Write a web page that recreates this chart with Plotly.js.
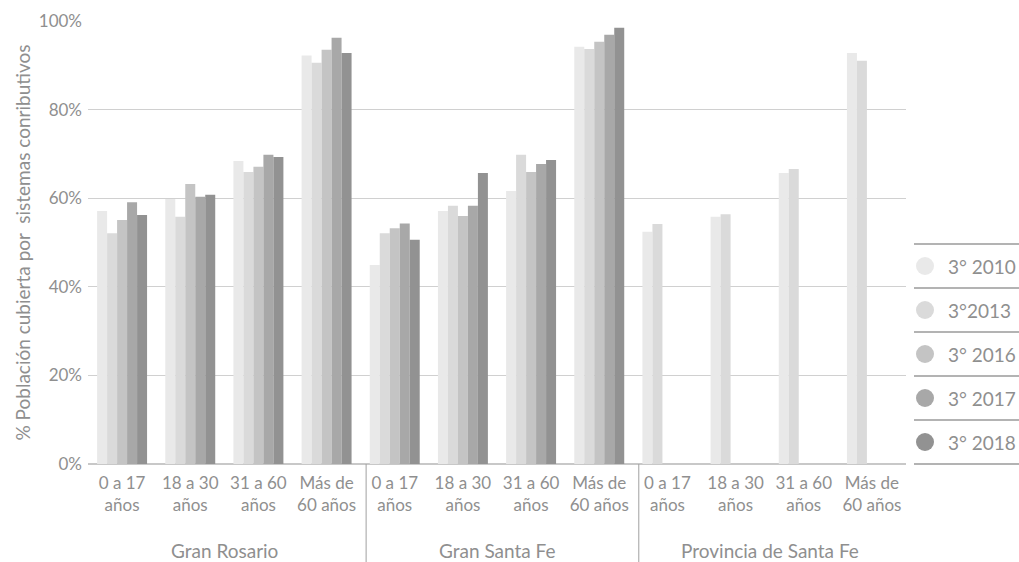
<!DOCTYPE html>
<html>
<head>
<meta charset="utf-8">
<script src="https://cdn.plot.ly/plotly-3.0.1.min.js"></script>
<style>html,body{margin:0;padding:0;background:#fff;}#chart{width:1019px;height:562px;}</style>
</head>
<body>
<div id="chart"></div>
<script>
// ---- data ----
var regions = ["Gran Rosario", "Gran Santa Fe", "Provincia de Santa Fe"];
var ageGroups = ["0 a 17<br>años", "18 a 30<br>años", "31 a 60<br>años", "Más de<br>60 años"];
var seriesNames = ["3° 2010", "3°2013", "3° 2016", "3° 2017", "3° 2018"];
var seriesColors = ["#e9e9e9", "#dadada", "#c4c4c4", "#a8a8a8", "#929292"];
// values in %, order: GR(4 ages), GSF(4 ages), Provincia(4 ages)
var s2010 = [57.1, 59.8, 68.4, 92.2, 44.9, 57.1, 61.6, 94.2, 52.4, 55.8, 65.7, 92.8];
var s2013 = [52.1, 55.8, 65.9, 90.6, 52.1, 58.3, 69.8, 93.7, 54.2, 56.4, 66.6, 91.0];
var s2016 = [55.1, 63.2, 67.1, 93.5, 53.2, 56.0, 65.9, 95.3, null, null, null, null];
var s2017 = [59.1, 60.3, 69.8, 96.2, 54.3, 58.3, 67.7, 96.9, null, null, null, null];
var s2018 = [56.2, 60.8, 69.3, 92.8, 50.6, 65.7, 68.6, 98.5, null, null, null, null];
var yTickVals = [0, 20, 40, 60, 80, 100];
var yTickText = ["0%", "20%", "40%", "60%", "80%", "100%"];
var yTitle = "% Población cubierta por  sistemas conributivos";

var allSeries = [s2010, s2013, s2016, s2017, s2018];

// ---- build ----
var xIdx = [], xText = [];
regions.forEach(function (r, ri) {
  ageGroups.forEach(function (a, ai) {
    xIdx.push(ri * ageGroups.length + ai);
    xText.push(a);
  });
});

var traces = allSeries.map(function (vals, i) {
  return {
    type: "bar",
    x: xIdx,
    y: vals,
    name: seriesNames[i],
    marker: { color: seriesColors[i], line: { width: 0 } },
    showlegend: false,
    hoverinfo: "y+name"
  };
});

var W = 1019, H = 562;
var mL = 88, mR = 113, mT = 21, mB = 98;
var pw = W - mL - mR, ph = H - mT - mB;
function px(x) { return (x - mL) / pw; }
function py(y) { return (H - mB - y) / ph; }

var textColor = "#8f8f8f";
var fontFam = "Lato, 'Open Sans', sans-serif";

var shapes = [];
var annotations = [];

// dividers between regions
for (var g = 1; g < regions.length; g++) {
  var xb = g * ageGroups.length - 0.5 + 0.08;
  shapes.push({
    type: "line", xref: "x", yref: "paper",
    x0: xb, x1: xb, y0: 0, y1: py(H),
    line: { color: "#a0a0a0", width: 1 }
  });
}
// region labels
regions.forEach(function (r, ri) {
  annotations.push({
    text: r, xref: "x", yref: "paper",
    x: ri * ageGroups.length + (ageGroups.length - 1) / 2,
    y: py(550), xanchor: "center", yanchor: "middle",
    showarrow: false, font: { family: fontFam, size: 19, color: textColor }
  });
});

// custom legend
var legTop = 244, legStep = 44;
for (var k = 0; k <= seriesNames.length; k++) {
  var ly = legTop + k * legStep;
  shapes.push({
    type: "line", xref: "paper", yref: "paper",
    x0: px(914), x1: px(1019), y0: py(ly), y1: py(ly),
    line: { color: "#9a9a9a", width: 1.3 }
  });
}
seriesNames.forEach(function (n, i) {
  var cy = legTop + i * legStep + legStep / 2;
  shapes.push({
    type: "circle", xref: "paper", yref: "paper",
    xsizemode: "pixel", ysizemode: "pixel",
    xanchor: px(925), yanchor: py(cy),
    x0: -9, x1: 9, y0: -9, y1: 9,
    fillcolor: seriesColors[i], line: { width: 0 }
  });
  annotations.push({
    text: n, xref: "paper", yref: "paper",
    x: px(946), y: py(cy), xanchor: "left", yanchor: "middle",
    showarrow: false, font: { family: fontFam, size: 19, color: textColor }
  });
});

var layout = {
  width: W, height: H,
  margin: { l: mL, r: mR, t: mT, b: mB, pad: 0 },
  paper_bgcolor: "#fff", plot_bgcolor: "#fff",
  barmode: "group", bargap: 0.267, bargroupgap: 0,
  font: { family: fontFam, color: textColor, size: 17 },
  xaxis: {
    type: "linear",
    range: [-0.5, xIdx.length - 0.5],
    tickvals: xIdx, ticktext: xText,
    showgrid: false, zeroline: false, showline: false,
    ticks: "", ticklabelstandoff: 7,
    tickfont: { family: fontFam, size: 17, color: textColor },
    fixedrange: true
  },
  yaxis: {
    range: [0, 100],
    tickvals: yTickVals, ticktext: yTickText,
    showgrid: true, gridcolor: "#d0d0d0", gridwidth: 1,
    zeroline: true, zerolinecolor: "#c8c8c8", zerolinewidth: 2,
    showline: false, ticks: "", ticklabelstandoff: 5,
    tickfont: { family: fontFam, size: 17, color: textColor },
    title: { text: yTitle, font: { family: fontFam, size: 19, color: textColor }, standoff: 3 },
    automargin: false, fixedrange: true
  },
  shapes: shapes,
  annotations: annotations
};

Plotly.newPlot("chart", traces, layout, { displayModeBar: false, staticPlot: true });
</script>
</body>
</html>
